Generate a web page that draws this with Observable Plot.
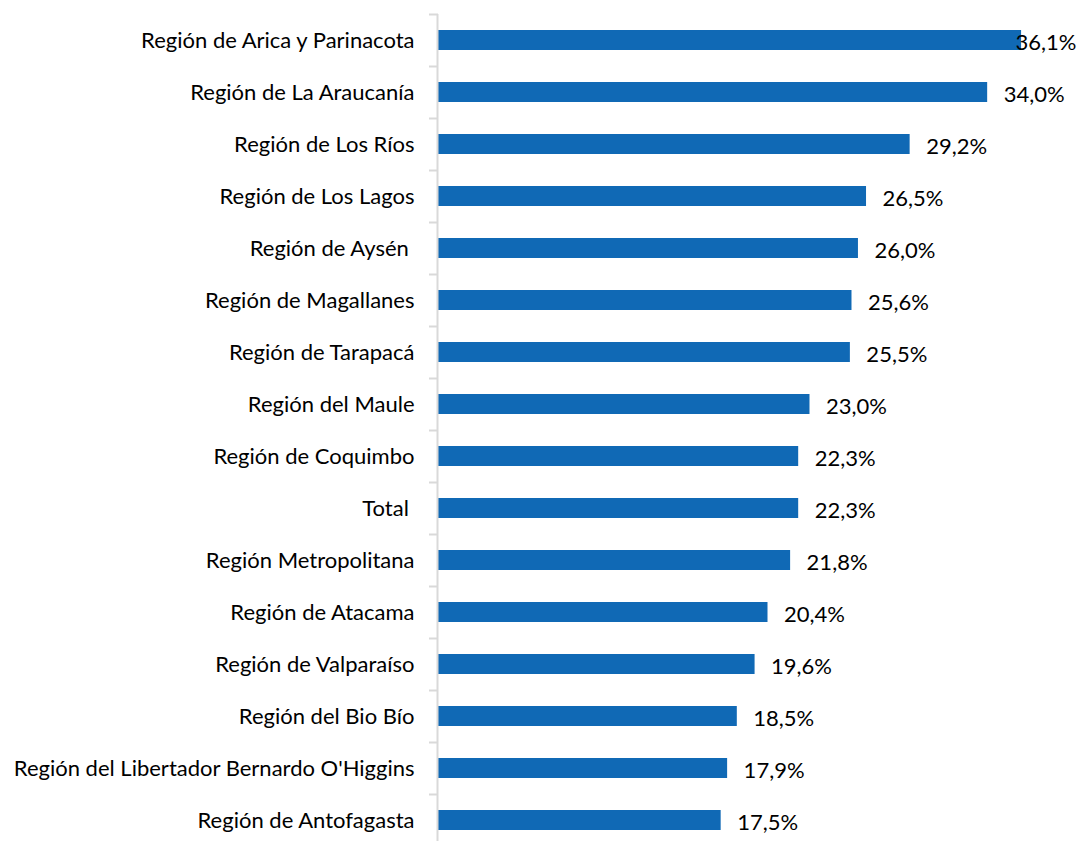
<!DOCTYPE html>
<html>
<head>
<meta charset="utf-8">
<script src="https://cdn.jsdelivr.net/npm/d3@7"></script>
<script src="https://cdn.jsdelivr.net/npm/@observablehq/plot@0.6"></script>
<style>
  html, body { margin: 0; padding: 0; background: #fff; }
  svg text { white-space: pre; }
</style>
</head>
<body>
<div id="chart"></div>
<script>
const categories = [
  "Región de Arica y Parinacota",
  "Región de La Araucanía",
  "Región de Los Ríos",
  "Región de Los Lagos",
  "Región de Aysén ",
  "Región de Magallanes",
  "Región de Tarapacá",
  "Región del Maule",
  "Región de Coquimbo",
  "Total ",
  "Región Metropolitana",
  "Región de Atacama",
  "Región de Valparaíso",
  "Región del Bio Bío",
  "Región del Libertador Bernardo O'Higgins",
  "Región de Antofagasta"
];
const values = [36.1, 34.0, 29.2, 26.5, 26.0, 25.6, 25.5, 23.0, 22.3, 22.3, 21.8, 20.4, 19.6, 18.5, 17.9, 17.5];

const data = categories.map((c, i) => ({category: c, value: values[i]}));
const fmt = v => v.toFixed(1).replace(".", ",") + "%";
const font = "Lato, 'Open Sans', sans-serif";

const chart = Plot.plot({
  width: 1080,
  height: 841,
  marginLeft: 438,
  marginRight: 4,
  marginTop: 14,
  marginBottom: 0,
  style: {fontFamily: font, fontSize: "22px", color: "#000", background: "#fff"},
  x: {domain: [0, 39.5], axis: null},
  y: {domain: categories, range: [14, 847], paddingInner: 0.615, paddingOuter: 0.3075, label: null},
  marks: [
    Plot.axisY({tickSize: 9, tickFormat: () => "", stroke: "#d9d9d9", strokeWidth: 2, strokeOpacity: 1, dy: -26}),
    Plot.axisY({tickSize: 0, tickPadding: 24, fontSize: 22, fill: "#000"}),
    Plot.barX(data, {y: "category", x: "value", fill: "#1069b5"}),
    Plot.ruleX([0], {stroke: "#d9d9d9", strokeWidth: 2, dx: -1}),
    Plot.text(data.filter(d => d.value < 35), {y: "category", x: "value", text: d => fmt(d.value), textAnchor: "start", dx: 16, dy: 2, fontSize: 22, fill: "#000"}),
    Plot.text(data.filter(d => d.value >= 35), {y: "category", text: d => fmt(d.value), frameAnchor: "right", textAnchor: "end", dy: 2, fontSize: 22, fill: "#000"})
  ]
});
document.getElementById("chart").appendChild(chart);
</script>
</body>
</html>
